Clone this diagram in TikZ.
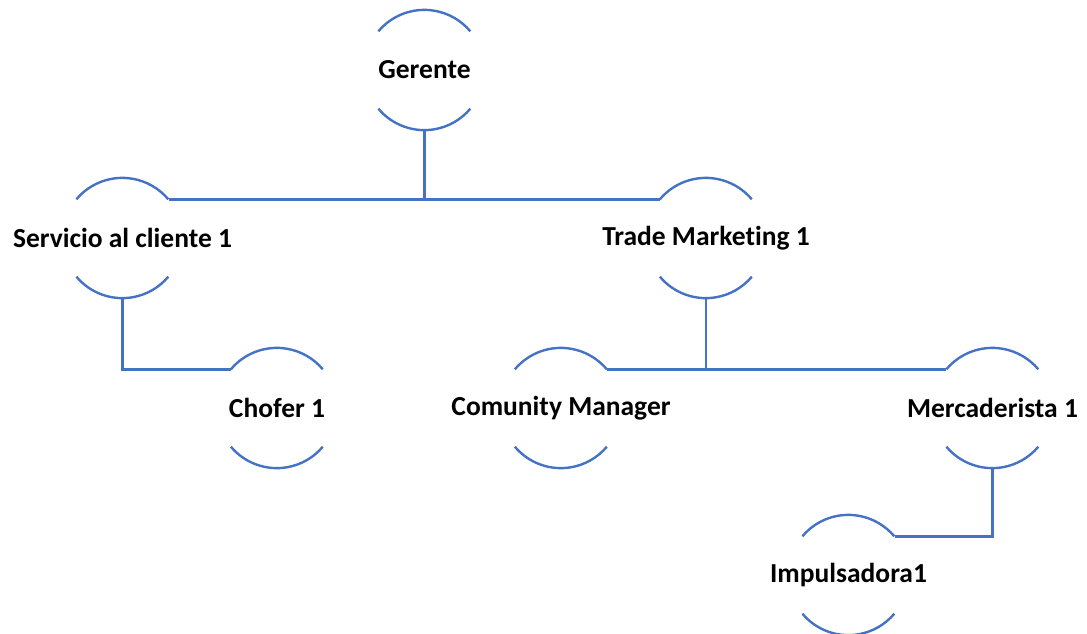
\documentclass[tikz,border=0pt]{standalone}
\usepackage{fontspec}
\setmainfont{Carlito}[Ligatures=NoCommon,RawFeature={-liga;-clig;-dlig;-calt}]
\definecolor{linkblue}{HTML}{4472C4}
\begin{document}
\begin{tikzpicture}[x=1pt,y=-1pt,
  role/.style={circle,minimum size=120pt,inner sep=0pt,
    font=\bfseries\fontsize{27.5}{30}\selectfont},
  link/.style={draw=linkblue,line width=2.4pt},
  rim/.style={draw=linkblue,line width=2.4pt}]
\useasboundingbox (0,0) rectangle (1087,633);

% positions of the roles
\node[role] (ger)  at (424.5,70)  {\makebox[0pt]{Gerente}};
\node[role] (serv) at (122.5,238) {\makebox[0pt]{Servicio al cliente 1}};
\node[role] (trade) at (706,238)  {\makebox[0pt]{Trade Marketing 1}};
\node[role] (chof) at (277,408)   {\makebox[0pt]{Chofer 1}};
\node[role] (comm) at (561,408)   {\makebox[0pt]{Comunity Manager}};
\node[role] (merc) at (992.5,408) {\makebox[0pt]{Mercaderista 1}};
\node[role] (imp)  at (848.5,575) {\makebox[0pt]{Impulsadora1}};

% upper and lower arcs of each role circle
\foreach \n in {ger,serv,trade,chof,comm,merc,imp}{
  \draw[rim] (\n.140) arc[start angle=140,end angle=40,radius=60pt];
  \draw[rim] (\n.-140) arc[start angle=-140,end angle=-40,radius=60pt];
}

% reporting lines
\draw[link] (serv.40) -- (trade.140);
\draw[link] (ger.south) -- (ger.south |- serv.40);
\draw[link] (serv.south) |- (chof.140);
\draw[link] (comm.40) -- (merc.140);
\draw[link] (trade.south) -- (trade.south |- comm.40);
\draw[link] (merc.south) |- (imp.40);
\end{tikzpicture}
\end{document}
